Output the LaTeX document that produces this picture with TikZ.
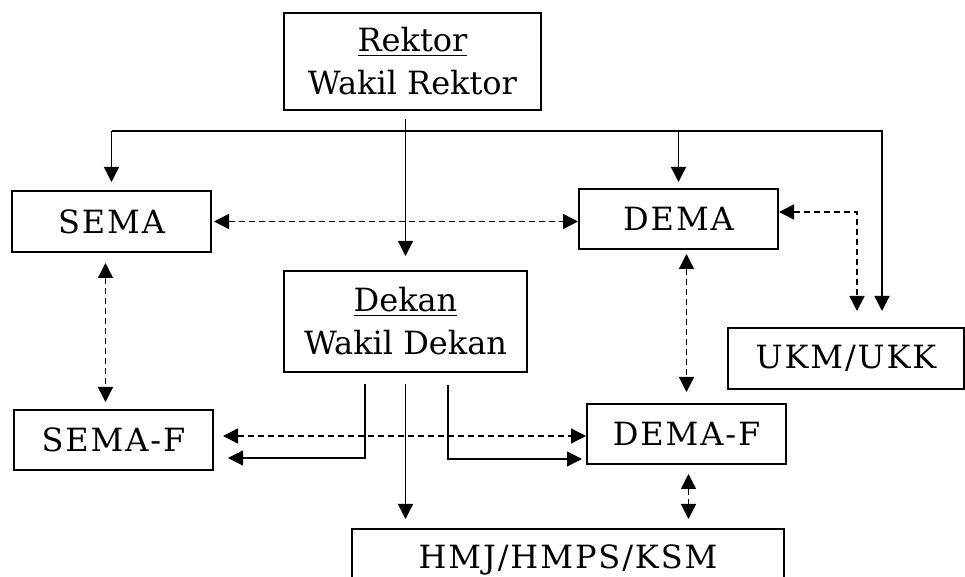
\documentclass[tikz,border=0pt]{standalone}
\usepackage{fontspec}
\setmainfont{DejaVu Serif}
\usetikzlibrary{positioning}
\usetikzlibrary{calc}
\usetikzlibrary{arrows.meta}

\begin{document}
\begin{tikzpicture}[x=0.5pt, y=-0.5pt,
        ORG/.style={rectangle, draw=black!100, fill=white!100, line width=1pt, inner sep=0pt, align=center, font=\fontsize{16}{21.5}\selectfont},
        ORGC/.style={ORG, font=\fontsize{16}{21.5}\selectfont\addfontfeature{LetterSpace=6}},
        LINK/.style={draw=black, line width=0.65pt, -{Triangle[length=7.5pt, width=7.5pt]}},
        DLINK/.style={LINK, {Triangle[length=7.5pt, width=7.5pt]}-{Triangle[length=7.5pt, width=7.5pt]}, dash pattern=on 3pt off 2pt},
        ]
            \clip (0,0) rectangle (965,577);

            \node[ORG, minimum width=128.5pt, minimum height=48.5pt] (rektor) at (412.5,61.5) {\underline{Rektor}\\ Wakil Rektor};
            \node[ORGC, minimum width=99.5pt, minimum height=30.5pt] (sema) at (111.5,221.5) {SEMA};
            \node[ORGC, minimum width=99.5pt, minimum height=30pt] (dema) at (678.5,219) {DEMA};
            \node[ORG, minimum width=121.5pt, minimum height=50.5pt] (dekan) at (405.5,321.5) {\underline{Dekan}\\ Wakil Dekan};
            \node[ORGC, minimum width=118pt, minimum height=30.5pt] (ukm) at (846,358.5) {UKM/UKK};
            \node[ORGC, minimum width=99.5pt, minimum height=30pt] (semaf) at (113.5,440) {SEMA-F};
            \node[ORGC, minimum width=99.5pt, minimum height=30pt] (demaf) at (686.5,434) {DEMA-F};
            \node[ORGC, minimum width=216pt, minimum height=30.5pt] (hmj) at (568,559.5) {HMJ/HMPS/KSM};

            % garis komando dari rektor
            \coordinate (busR) at (882,131);
            \draw[LINK, shorten >=8pt] (sema.north |- busR) -- (busR) -- (busR |- ukm.north);
            \draw[LINK, shorten >=4pt] (sema.north |- busR) -- (sema.north);
            \draw[LINK, shorten >=3pt] (dema.north |- busR) -- (dema.north);
            \draw[LINK, shorten >=7pt] ([yshift=-4pt]rektor.south -| dekan.north) -- (dekan.north);

            % garis koordinasi
            \draw[DLINK, shorten <=1pt] (sema.east) -- (sema.east -| dema.west);
            \draw[DLINK, shorten >=8pt] ([yshift=3.5pt]dema.east) -| ([xshift=5.5pt]ukm.north);
            \draw[DLINK, shorten <=5pt, shorten >=3.5pt] ([xshift=-3pt]sema.south) -- ([xshift=-3pt]sema.south |- semaf.north);
            \draw[DLINK, shorten <=2pt, shorten >=5.5pt] (demaf.north |- dema.south) -- (demaf.north);
            \draw[DLINK, shorten <=4.5pt] ([yshift=2pt]semaf.east) -- ([yshift=2pt]semaf.east -| demaf.west);
            \draw[DLINK, shorten <=4.5pt, shorten >=4.5pt] ([xshift=1pt]demaf.south) -- ([xshift=1pt]demaf.south |- hmj.north);

            % garis komando dari dekan
            \draw[LINK, shorten >=7pt] ([xshift=-20.25pt, yshift=-5.5pt]dekan.south) |- ([yshift=-9pt]semaf.east);
            \draw[LINK, shorten >=2pt] ([xshift=21.25pt, yshift=-6pt]dekan.south) |- ([yshift=-12.5pt]demaf.west);
            \draw[LINK, shorten >=4.5pt] ([yshift=-5.5pt]dekan.south) -- (dekan.south |- hmj.north);
        \end{tikzpicture}
\end{document}
